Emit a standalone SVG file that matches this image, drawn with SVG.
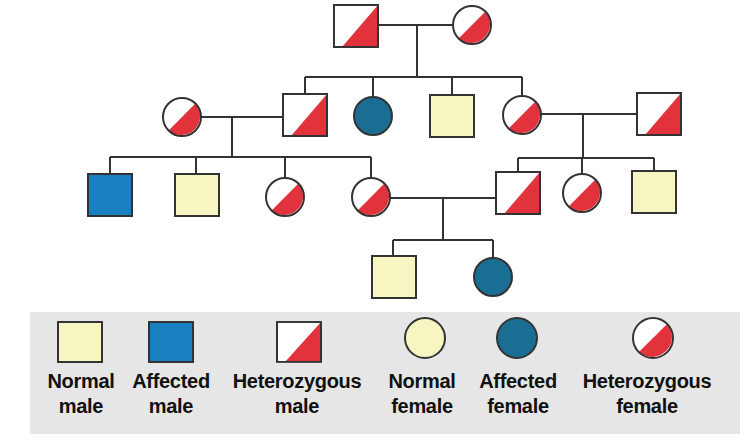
<svg xmlns="http://www.w3.org/2000/svg" width="753" height="446" viewBox="0 0 753 446">
<style>
.ln{stroke:#333;stroke-width:2;fill:none}
.bx{stroke:#333;stroke-width:2}
.n{fill:#f7f5c2}
.a{fill:#1b6e93}
.am{fill:#1b80c2}
.w{fill:#fff}
.r{fill:#e2333d}
.t{font-family:"Liberation Sans",Arial,sans-serif;font-weight:bold;font-size:20px;fill:#111;text-anchor:middle;letter-spacing:-0.3px}
</style>
<defs>
<g id="hm">
<rect x="0" y="0" width="44" height="42" class="w"/>
<polygon points="8,42 44,0 44,42" class="r"/>
<rect x="0" y="0" width="44" height="42" fill="none" class="bx"/>
</g>
<g id="hf">
<circle cx="0" cy="0" r="19" class="w"/>
<path d="M13.4,-13.4 A19,19 0 0 1 -13.4,13.4 Z" class="r"/>
<circle cx="0" cy="0" r="19" fill="none" class="bx"/>
</g>
<g id="hfl">
<circle cx="0" cy="0" r="20" class="w"/>
<path d="M14.1,-14.1 A20,20 0 0 1 -14.1,14.1 Z" class="r"/>
<circle cx="0" cy="0" r="20" fill="none" class="bx"/>
</g>
</defs>
<rect width="753" height="446" fill="#fff"/>
<g id="connectors">
<path class="ln" d="M378,25 H453 M417,25 V77 M305,77 H522 M305,77 V94 M373,77 V97 M452,77 V95 M522,77 V96"/>
<path class="ln" d="M201,117 H283 M232,117 V157 M110,157 H371 M110,157 V174 M196,157 V174 M285,157 V178 M371,157 V178"/>
<path class="ln" d="M541,114 H637 M583,114 V158 M518,158 H654 M518,158 V172 M582,158 V174 M654,158 V171"/>
<path class="ln" d="M390,198 H496 M443,198 V240 M393,240 H493 M393,240 V256 M493,240 V258"/>
</g>
<g id="g1m"><use href="#hm" x="334" y="5"/></g>
<g id="g1f"><use href="#hf" x="472" y="25"/></g>
<g id="g2a"><use href="#hf" x="182" y="117"/></g>
<g id="g2b"><use href="#hm" x="283" y="94"/></g>
<g id="g2c"><circle cx="373" cy="116" r="19" class="a bx"/></g>
<g id="g2d"><rect x="430" y="95" width="44" height="42" class="n bx"/></g>
<g id="g2e"><use href="#hf" x="522" y="115"/></g>
<g id="g2f"><use href="#hm" x="637" y="93"/></g>
<g id="g3a"><rect x="88" y="174" width="44" height="42" class="am bx"/></g>
<g id="g3b"><rect x="175" y="174" width="44" height="42" class="n bx"/></g>
<g id="g3c"><use href="#hf" x="285" y="197"/></g>
<g id="g3d"><use href="#hf" x="371" y="197"/></g>
<g id="g3e"><use href="#hm" x="496" y="172"/></g>
<g id="g3f"><use href="#hf" x="582" y="193"/></g>
<g id="g3g"><rect x="632" y="171" width="44" height="42" class="n bx"/></g>
<g id="g4a"><rect x="372" y="256" width="44" height="42" class="n bx"/></g>
<g id="g4b"><circle cx="493" cy="277" r="19" class="a bx"/></g>
<g id="legend">
<rect x="30" y="312" width="710" height="122" fill="#e6e6e6"/>
<rect x="58" y="322" width="44" height="40" class="n bx"/>
<rect x="149" y="322" width="44" height="40" class="am bx"/>
<g transform="translate(277,322) scale(1,0.95)"><use href="#hm"/></g>
<circle cx="425" cy="338" r="20" class="n bx"/>
<circle cx="517" cy="338" r="20" class="a bx"/>
<use href="#hfl" x="653" y="338"/>
<text class="t" x="81" y="388">Normal</text>
<text class="t" x="81" y="413">male</text>
<text class="t" x="171" y="388">Affected</text>
<text class="t" x="171" y="413">male</text>
<text class="t" x="297" y="388">Heterozygous</text>
<text class="t" x="297" y="413">male</text>
<text class="t" x="422" y="388">Normal</text>
<text class="t" x="422" y="413">female</text>
<text class="t" x="518" y="388">Affected</text>
<text class="t" x="518" y="413">female</text>
<text class="t" x="647" y="388">Heterozygous</text>
<text class="t" x="647" y="413">female</text>
</g>
</svg>
